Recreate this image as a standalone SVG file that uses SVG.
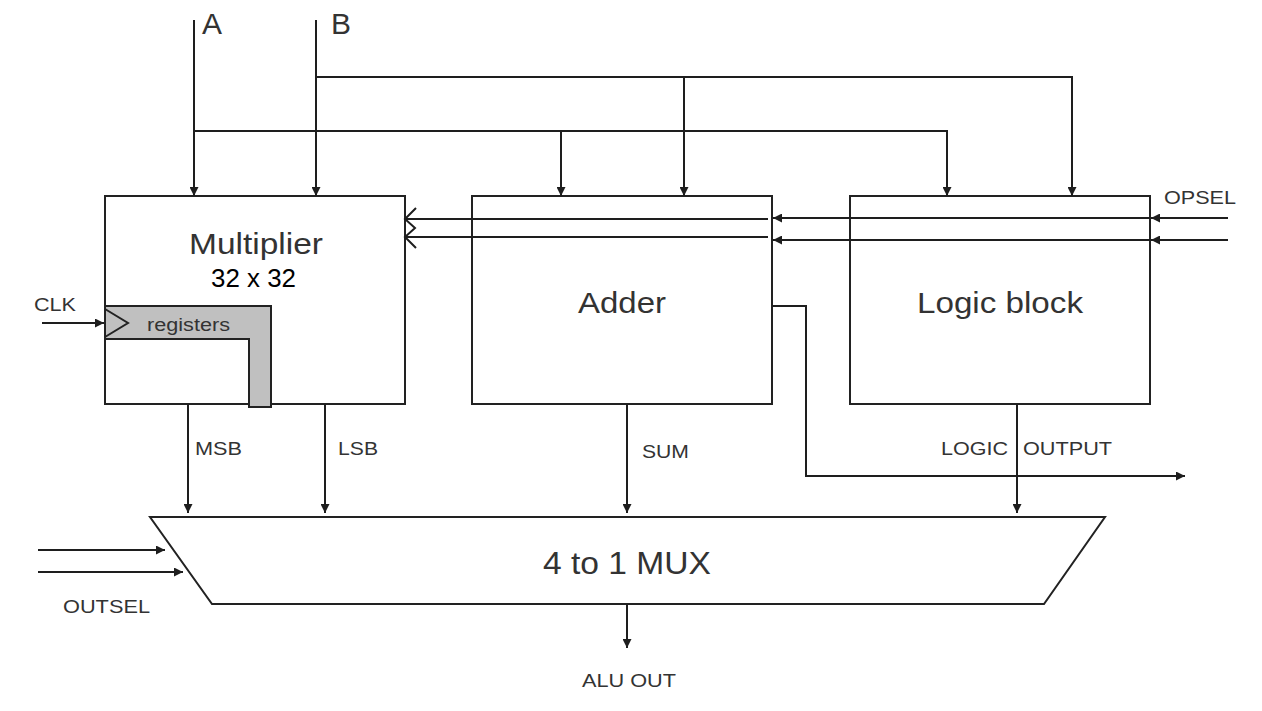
<svg xmlns="http://www.w3.org/2000/svg" width="1262" height="711" viewBox="0 0 1262 711">
<style>
.box{fill:#fff;stroke:#222;stroke-width:2}
.ln{fill:none;stroke:#1e1e1e;stroke-width:2}
.t{font-family:"Liberation Sans",Arial,sans-serif;fill:#333}
.big{font-size:30px}
.sm{font-size:19px}
</style>
<defs>
<marker id="arr" viewBox="0 0 10 10" refX="10" refY="5" markerWidth="9" markerHeight="9" markerUnits="userSpaceOnUse" orient="auto">
<path d="M0,0 L10,5 L0,10 z" fill="#1e1e1e"/>
</marker>
</defs>
<rect width="1262" height="711" fill="#fff"/>

<g id="multiplier">
<rect class="box" x="105" y="196" width="300" height="208"/>
<path d="M105,306 H271 V407 H249 V339 H105 Z" fill="#c0c0c0" stroke="#222" stroke-width="2"/>
<polyline points="105,309 128,323 105,337" fill="none" stroke="#222" stroke-width="2"/>
<text class="t big" x="189" y="254" textLength="134" lengthAdjust="spacingAndGlyphs">Multiplier</text>
<text class="t" x="211" y="287" font-size="26" fill="#000" style="fill:#000" textLength="85" lengthAdjust="spacingAndGlyphs">32 x 32</text>
<text class="t" x="147" y="331" font-size="18" textLength="83" lengthAdjust="spacingAndGlyphs">registers</text>
</g>

<g id="adder">
<rect class="box" x="472" y="196" width="300" height="208"/>
<text class="t big" x="578" y="313" textLength="88" lengthAdjust="spacingAndGlyphs">Adder</text>
</g>

<g id="logic">
<rect class="box" x="850" y="196" width="300" height="208"/>
<text class="t big" x="917" y="313" textLength="166" lengthAdjust="spacingAndGlyphs">Logic block</text>
</g>

<g id="mux">
<polygon class="box" points="150,517 1105,517 1044,604 212,604"/>
<text class="t" x="543" y="574" font-size="32" textLength="168" lengthAdjust="spacingAndGlyphs">4 to 1 MUX</text>
</g>

<g id="labels">
<text class="t" x="202" y="34" font-size="30" textLength="20" lengthAdjust="spacingAndGlyphs">A</text>
<text class="t" x="331" y="34" font-size="30" textLength="20" lengthAdjust="spacingAndGlyphs">B</text>
<text class="t sm" x="34" y="311" textLength="42" lengthAdjust="spacingAndGlyphs">CLK</text>
<text class="t sm" x="1164" y="204" textLength="72" lengthAdjust="spacingAndGlyphs">OPSEL</text>
<text class="t sm" x="195" y="455" textLength="47" lengthAdjust="spacingAndGlyphs">MSB</text>
<text class="t sm" x="338" y="455" textLength="40" lengthAdjust="spacingAndGlyphs">LSB</text>
<text class="t sm" x="642" y="458" textLength="47" lengthAdjust="spacingAndGlyphs">SUM</text>
<text class="t sm" y="455"><tspan x="941" textLength="67" lengthAdjust="spacingAndGlyphs">LOGIC</tspan><tspan x="1023" textLength="89" lengthAdjust="spacingAndGlyphs">OUTPUT</tspan></text>
<text class="t sm" x="63" y="613" textLength="87" lengthAdjust="spacingAndGlyphs">OUTSEL</text>
<text class="t sm" x="582" y="687" textLength="94" lengthAdjust="spacingAndGlyphs">ALU OUT</text>
</g>

<g id="connectors">
<path class="ln" d="M194,20 V196" marker-end="url(#arr)"/>
<path class="ln" d="M316,20 V196" marker-end="url(#arr)"/>
<path class="ln" d="M194,131 H947 V196" marker-end="url(#arr)"/>
<path class="ln" d="M561,131 V196" marker-end="url(#arr)"/>
<path class="ln" d="M316,77 H1072 V196" marker-end="url(#arr)"/>
<path class="ln" d="M684,77 V196" marker-end="url(#arr)"/>
<path class="ln" d="M1228,218 H1151" marker-end="url(#arr)"/>
<path class="ln" d="M1228,240 H1151" marker-end="url(#arr)"/>
<path class="ln" d="M1150,218 H773" marker-end="url(#arr)"/>
<path class="ln" d="M1150,240 H773" marker-end="url(#arr)"/>
<path class="ln" d="M768,219 H405 M768,237 H405" stroke-width="2.5"/>
<polyline class="ln" points="416,208 405,219 415,228 405,237 416,248" stroke-width="2"/>
<path class="ln" d="M42,323 H104" marker-end="url(#arr)"/>
<path class="ln" d="M188,404 V513" marker-end="url(#arr)"/>
<path class="ln" d="M325,404 V513" marker-end="url(#arr)"/>
<path class="ln" d="M627,404 V513" marker-end="url(#arr)"/>
<path class="ln" d="M1017,404 V513" marker-end="url(#arr)"/>
<path class="ln" d="M772,306 H806 V476 H1185" marker-end="url(#arr)"/>
<path class="ln" d="M38,550 H165" marker-end="url(#arr)"/>
<path class="ln" d="M38,572 H183" marker-end="url(#arr)"/>
<path class="ln" d="M627,604 V648" marker-end="url(#arr)"/>
</g>
</svg>
